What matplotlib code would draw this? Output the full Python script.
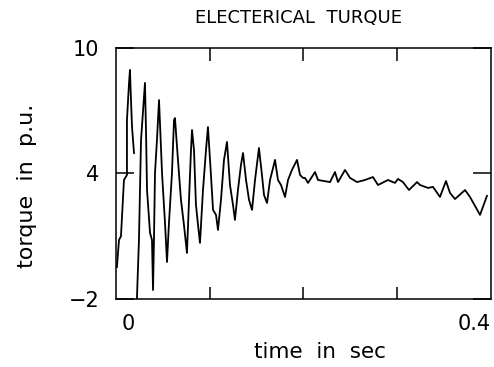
import numpy as np
import matplotlib
matplotlib.use("Agg")
import matplotlib.pyplot as plt
import matplotlib.transforms as mtransforms

# data (time in s, torque in p.u.)
# nan = pen lift in the original trace
time_s = [0.0010, 0.0032, 0.0053, 0.0085, 0.0117, 0.0117, 0.0139, 0.0149, 0.0160, 0.0171, 0.0192,
          np.nan,
          0.0220, 0.0245, 0.0267, 0.0309, 0.0320, 0.0331, 0.0363, 0.0384, 0.0395,
          0.0405, 0.0416, 0.0437, 0.0459, 0.0491, 0.0523, 0.0544,
          0.0565, 0.0597, 0.0619, 0.0629, 0.0661, 0.0693, 0.0725, 0.0757,
          0.0779, 0.0800, 0.0811, 0.0832, 0.0853, 0.0875, 0.0896,
          0.0928, 0.0960, 0.0981, 0.1013, 0.1035, 0.1067, 0.1088,
          0.1120, 0.1152, 0.1184, 0.1216, 0.1248, 0.1269,
          0.1301, 0.1333, 0.1355, 0.1387, 0.1419, 0.1451,
          0.1483, 0.1525, 0.1557, 0.1579, 0.1611,
          0.1643, 0.1675, 0.1696, 0.1728, 0.1760, 0.1803,
          0.1835, 0.1877, 0.1931, 0.1963, 0.1995,
          0.2016, 0.2048, 0.2123, 0.2155, 0.2283, 0.2336, 0.2368, 0.2443, 0.2496,
          0.2571, 0.2656, 0.2741, 0.2795, 0.2901, 0.2976, 0.3008, 0.3061, 0.3125,
          0.3211, 0.3243, 0.3328, 0.3381, 0.3456, 0.3520, 0.3563, 0.3616, 0.3723,
          0.3776, 0.3883, 0.3957]

torque_pu = [-0.47, 0.82, 1.00, 3.69, 3.93, 6.56, 8.33, 8.95, 7.51, 6.22, 4.98,
             np.nan,
             -2.40, 0.82, 5.60, 8.33, 6.08, 3.21, 1.16, 0.82, -1.57,
             0.82, 4.02, 5.60, 7.51, 4.02, 1.63, -0.23,
             1.63, 4.02, 6.56, 6.65, 4.65, 2.74, 1.54, 0.20,
             2.74, 5.12, 6.08, 5.12, 2.50, 1.54, 0.68,
             3.21, 5.12, 6.22, 3.93, 2.26, 2.02, 1.30,
             2.74, 4.65, 5.51, 3.45, 2.50, 1.78,
             3.21, 4.41, 4.98, 3.69, 2.74, 2.26,
             3.69, 5.22, 3.93, 2.97, 2.59,
             3.69, 4.26, 4.65, 3.69, 3.45, 2.88,
             3.69, 4.17, 4.65, 3.93, 3.79,
             3.79, 3.55, 4.07, 3.69, 3.59, 4.07, 3.59, 4.17, 3.79,
             3.59, 3.69, 3.83, 3.45, 3.69, 3.55, 3.74, 3.59, 3.21,
             3.59, 3.45, 3.31, 3.36, 2.88, 3.64, 3.07, 2.78, 3.21,
             2.88, 2.02, 2.93]

title_txt = "ELECTERICAL  TURQUE"
xlabel_txt = "time  in  sec"
ylabel_txt = "torque  in  p.u."
ytick_vals = [-2, 4, 10]
ytick_lbls = ["\u22122", "4", "10"]
xtick_inner = [0.1, 0.2, 0.3]

fig = plt.figure(figsize=(4.94, 3.67), dpi=100)
ax = fig.add_axes([0.2348, 0.1853, 0.7591, 0.6839])

ax.plot(time_s, torque_pu, color="black", lw=1.3)
ax.set_xlim(0, 0.4)
ax.set_ylim(-2, 10)

for sp in ax.spines.values():
    sp.set_linewidth(1.1)

# inward ticks like the old plotter output
ax.set_xticks(xtick_inner)
ax.set_xticklabels([])
ax.tick_params(axis="x", direction="in", length=9, width=1.1, top=True, bottom=True)
ax.set_yticks(ytick_vals)
ax.set_yticklabels(ytick_lbls, fontsize=15)
ax.tick_params(axis="y", direction="in", length=13, width=1.1, left=True, right=True, pad=12)

# x tick labels only at the ends, slightly inset as in the original
trans = mtransforms.blended_transform_factory(ax.transData, fig.transFigure)
ax.text(0.0128, 0.118, "0", transform=trans, fontsize=15, ha="center", va="center")
ax.text(0.4, 0.118, "0.4", transform=trans, fontsize=15, ha="right", va="center")

fig.text(0.605, 0.95, title_txt, fontsize=13, ha="center", va="center")
fig.text(0.648, 0.04, xlabel_txt, fontsize=15.5, ha="center", va="center")
fig.text(0.055, 0.493, ylabel_txt, fontsize=16, ha="center", va="center", rotation=90)

fig.savefig("out.png", dpi=100)
